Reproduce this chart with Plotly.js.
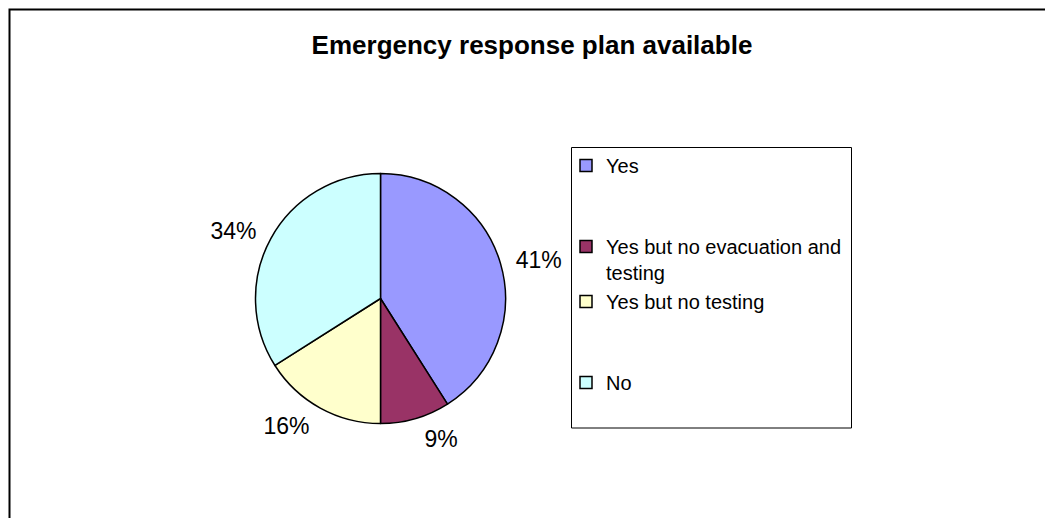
<!DOCTYPE html>
<html>
<head>
<meta charset="utf-8">
<script src="https://cdn.plot.ly/plotly-3.0.1.min.js"></script>
<style>html,body{margin:0;padding:0;background:#fff;}#chart{width:1045px;height:518px;}</style>
</head>
<body>
<div id="chart"></div>
<script>
const categories = ["Yes", "Yes but no evacuation and<br>testing", "Yes but no testing", "No"];
const values = [41, 9, 16, 34];
const colors = ["#9999FF", "#993366", "#FFFFCC", "#CCFFFF"];
// extra blank lines only widen the legend spacing
const spacers = ["<br> <br> ", "", "<br> <br> ", ""];
const legendLabels = categories.map((c, i) => c + spacers[i]);

const W = 1045, H = 518;
const px = x => x / W, py = y => 1 - y / H;
const cx = 380.5, cy = 298.5, R = 125, RL = 134;
const FONT = "Liberation Sans, Arial, sans-serif";

// invisible, slightly larger pie that only carries the percentage labels
const labelTrace = {
  type: "pie",
  labels: legendLabels,
  values: values,
  sort: false,
  direction: "clockwise",
  rotation: 0,
  showlegend: false,
  marker: {colors: ["rgba(0,0,0,0)", "rgba(0,0,0,0)", "rgba(0,0,0,0)", "rgba(0,0,0,0)"], line: {width: 0}},
  texttemplate: "%{percent:.0%}",
  textposition: "outside",
  outsidetextfont: {family: FONT, size: 23, color: "#000"},
  domain: {x: [px(cx - RL), px(cx + RL)], y: [py(cy + RL), py(cy - RL)]},
  hoverinfo: "skip"
};

const pieTrace = {
  type: "pie",
  labels: legendLabels,
  values: values,
  sort: false,
  direction: "clockwise",
  rotation: 0,
  marker: {colors: colors, line: {color: "#000", width: 1.5}},
  textinfo: "none",
  domain: {x: [px(cx - R), px(cx + R)], y: [py(cy + R), py(cy - R)]},
  hoverinfo: "label+percent"
};

const layout = {
  width: W, height: H,
  margin: {l: 0, r: 0, t: 0, b: 0},
  paper_bgcolor: "#fff",
  font: {family: FONT, color: "#000"},
  title: {
    text: "<b>Emergency response plan available</b>",
    font: {family: FONT, size: 26, color: "#000"},
    x: px(532), xanchor: "center", y: py(45), yanchor: "middle"
  },
  showlegend: true,
  legend: {
    x: px(566), xanchor: "left", y: py(146), yanchor: "top",
    font: {family: FONT, size: 20, color: "#000"},
    bgcolor: "rgba(0,0,0,0)", borderwidth: 0, valign: "top",
    itemclick: false
  },
  shapes: [
    {type: "rect", xref: "paper", yref: "paper", x0: px(9.5), x1: 1.05, y0: -0.05, y1: py(9.5),
     line: {color: "#000", width: 2}, fillcolor: "rgba(0,0,0,0)"},
    {type: "rect", xref: "paper", yref: "paper", x0: px(571.5), x1: px(851.5), y0: py(428), y1: py(147.5),
     line: {color: "#000", width: 1}, fillcolor: "rgba(0,0,0,0)"}
  ]
};

Plotly.newPlot("chart", [labelTrace, pieTrace], layout, {displayModeBar: false, staticPlot: true});
</script>
</body>
</html>
